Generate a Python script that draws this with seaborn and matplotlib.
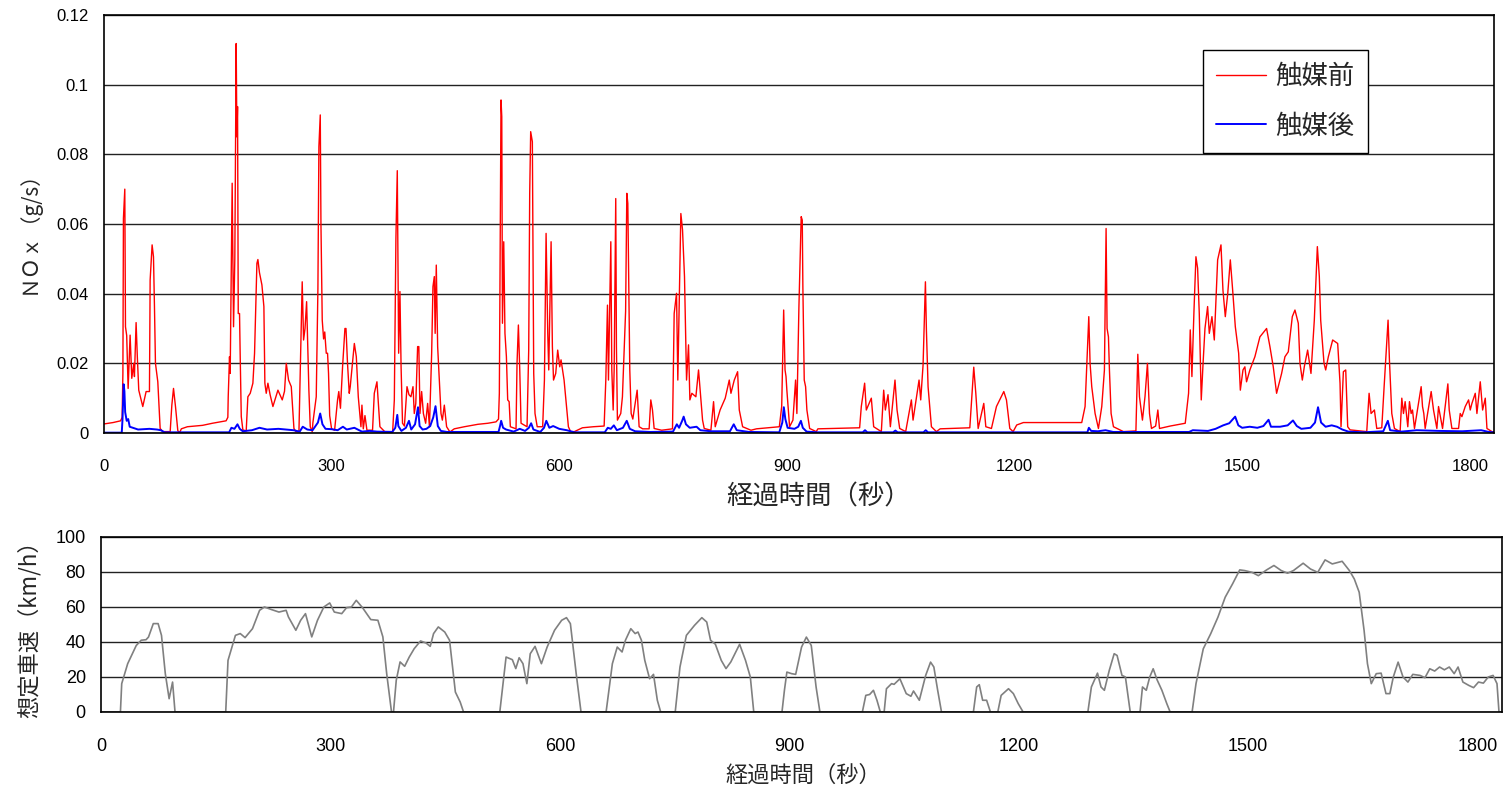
import matplotlib
matplotlib.use("Agg")
import matplotlib.pyplot as plt
import seaborn as sns
import pandas as pd

# ---------------- data ----------------
red_t = [0, 12, 22, 24, 25, 25.7, 27.5, 28.4, 30, 31.9, 34.5, 36.7, 39.3, 40.2, 42.4, 44, 45.9, 51.2, 55.6, 60,
         60.9, 63.5, 65.3, 66.6, 67.9, 71, 74.1, 77.6, 87.3, 89.5, 91.7, 94.3, 97.4, 100, 102, 110, 130, 143, 161,
         163.3, 163.8, 165.5, 166.4, 169, 170.8, 172.5, 174.3, 175.2, 176.1, 177, 178.7, 179.6, 181, 183.1, 187.5,
         189.7, 192.8, 196.3, 198.5, 201.6, 202.9, 205, 208.2, 210.8, 212.1, 213.9, 216.1, 219, 222.7, 226, 229.3,
         232, 235, 238, 240.3, 243.3, 246.9, 250.4, 253, 257, 259.2, 261.3, 263.1, 265, 267.1, 268.4, 270.1, 271.9,
         274.5, 275.4, 279.8, 282, 283.3, 285.1, 286, 287.7, 289.5, 291, 293, 294.7, 296, 297.5, 300, 304, 307.9,
         309.5, 311.7, 314.5, 317.6, 319, 321, 323.3, 324.6, 330, 332.6, 335.2, 338.7, 340, 341.8, 344, 346.6, 354,
         356.3, 359.8, 361.5, 363.7, 370, 380.5, 382.7, 384.8, 386.6, 388.4, 390.1, 391.6, 393.5, 396, 399.4, 402,
         404.6, 407.3, 409, 411, 413.4, 415, 416.5, 418.7, 421, 424, 426.6, 429, 431.9, 433.6, 435.4, 436.5, 438,
         439.8, 442, 444.2, 446, 448.6, 451.6, 456, 461.7, 475, 492.9, 506, 516.7, 520, 521.1, 523.3, 524.3, 525.2,
         526.9, 528.5, 530.4, 532.1, 534, 535.6, 543.1, 544.4, 546.2, 548, 549.7, 557.6, 559.8, 561.1, 562.4, 564.6,
         566.4, 568.1, 571, 578.2, 580.5, 582.7, 584.9, 586.2, 589.3, 591, 592.5, 595.4, 598, 600.7, 602.4, 606.4,
         609, 612.1, 615, 620, 630.6, 645, 659.2, 661.4, 663.6, 664.9, 668, 669.3, 671.1, 672.4, 674.5, 675.4, 676.7,
         681.1, 683.3, 685.5, 687.5, 689.1, 690.4, 693, 694.8, 697, 702.7, 705.3, 710, 718.5, 720.7, 722.9, 725.1,
         735, 749.3, 751.5, 754.6, 756.3, 760.3, 762.5, 765.1, 767.8, 770.4, 772.2, 774.8, 780.1, 783.6, 786.7,
         788.9, 791.1, 799.9, 803.4, 805.6, 812, 818.8, 824.1, 826.3, 830.7, 835.1, 837.3, 841.7, 852.7, 860, 890.1,
         893.2, 895.8, 897.6, 898.9, 900, 903.6, 908, 911.5, 913.2, 915.9, 918.9, 920.3, 921.1, 922.9, 924.7, 926.4,
         930, 938.7, 940.9, 995.9, 998.1, 1002.5, 1004.7, 1011.3, 1014.4, 1024.5, 1027.6, 1029.8, 1033.3, 1036.4,
         1042.5, 1045.2, 1048.7, 1056.6, 1064.1, 1066.3, 1074.2, 1076.4, 1079.5, 1082.6, 1083.9, 1086.1, 1090.5,
         1097.1, 1102, 1141.1, 1146.3, 1149, 1152.1, 1159.5, 1162.2, 1169.6, 1176.2, 1185.9, 1189.4, 1193.8, 1198.2,
         1202.9, 1211.7, 1288.6, 1293, 1297.9, 1299.6, 1301.8, 1306.2, 1310.6, 1315, 1318.5, 1320.7, 1322, 1323.8,
         1325.1, 1327.3, 1330.4, 1343.6, 1360, 1362.5, 1364.7, 1368.6, 1372, 1375.2, 1377.9, 1380.5, 1386, 1388.9,
         1391.1, 1405.2, 1425, 1429.4, 1431.6, 1433.8, 1436.5, 1439.1, 1441.3, 1443.5, 1446.1, 1448.5, 1451, 1454.5,
         1456.7, 1460.2, 1463.3, 1467.7, 1472.1, 1474.7, 1477.8, 1481, 1484.4, 1487.5, 1491, 1495.4, 1497.6, 1501.1,
         1503.6, 1505.8, 1510.2, 1516.8, 1523.4, 1532.2, 1536.6, 1541, 1545.4, 1549.8, 1552, 1556.4, 1560.8, 1566.1,
         1569.6, 1574, 1576.2, 1579.3, 1581.9, 1586.3, 1590.7, 1595.1, 1599.1, 1601.7, 1603.5, 1607.9, 1610.1,
         1613.6, 1619.3, 1625.9, 1629, 1630.3, 1633.4, 1636.5, 1639.1, 1642.2, 1664.2, 1667.3, 1669.9, 1674.3,
         1677.4, 1684, 1687.1, 1692.3, 1694.1, 1697.2, 1700.7, 1708.2, 1710.4, 1712.6, 1714.8, 1718.3, 1720.5,
         1722.7, 1724.5, 1727.1, 1735.9, 1737.7, 1739.4, 1741.2, 1749.1, 1752.2, 1756.6, 1758.8, 1764.1, 1771.1,
         1772.9, 1776.4, 1785.2, 1787.4, 1789.6, 1794, 1798.4, 1800.6, 1802.8, 1807.2, 1809.4, 1813.8, 1816.9,
         1820.4, 1822.6, 1829.2, 1832]
red_v = [0.0026, 0.003, 0.0035, 0.0045, 0.0171, 0.0616, 0.070, 0.0305, 0.028, 0.0128, 0.0281, 0.0157, 0.020,
         0.0162, 0.0317, 0.022, 0.0123, 0.0076, 0.0119, 0.0119, 0.0439, 0.054, 0.0506, 0.0363, 0.020, 0.0147,
         0.0013, 0.0004, 0.0004, 0.008, 0.0128, 0.0076, 0.0006, 0.0002, 0.0012, 0.0018, 0.0022, 0.0028, 0.0035,
         0.0045, 0.0104, 0.0219, 0.0171, 0.0717, 0.0305, 0.050, 0.1118, 0.085, 0.0937, 0.0343, 0.0343, 0.0219,
         0.0047, 0.0009, 0.0006, 0.0104, 0.0114, 0.0143, 0.0229, 0.0487, 0.0498, 0.046, 0.0425, 0.0363, 0.0143,
         0.0114, 0.0143, 0.011, 0.0076, 0.010, 0.0123, 0.011, 0.0095, 0.012, 0.020, 0.0152, 0.0133, 0.0013, 0.0004,
         0.0004, 0.0219, 0.0434, 0.0267, 0.030, 0.0377, 0.0262, 0.0123, 0.0018, 0.0004, 0.003, 0.0104, 0.0415,
         0.0822, 0.0913, 0.060, 0.0324, 0.027, 0.029, 0.0229, 0.0229, 0.0171, 0.005, 0.0012, 0.0008, 0.0095,
         0.0119, 0.0071, 0.019, 0.030, 0.030, 0.020, 0.0114, 0.0133, 0.0257, 0.0219, 0.0104, 0.0018, 0.008, 0.0012,
         0.005, 0.0008, 0.0008, 0.0114, 0.0147, 0.009, 0.0018, 0.0004, 0.0004, 0.0095, 0.0559, 0.0753, 0.0229,
         0.0406, 0.019, 0.0028, 0.002, 0.0133, 0.011, 0.0104, 0.0133, 0.0056, 0.0085, 0.0248, 0.0248, 0.0056,
         0.0119, 0.0056, 0.0028, 0.0085, 0.0018, 0.0229, 0.042, 0.0449, 0.0286, 0.0482, 0.0248, 0.0152, 0.0056,
         0.0037, 0.008, 0.0018, 0.0003, 0.0012, 0.0018, 0.0025, 0.0028, 0.0032, 0.004, 0.0114, 0.0956, 0.0908,
         0.0315, 0.0549, 0.0286, 0.0219, 0.0095, 0.009, 0.0018, 0.0012, 0.020, 0.031, 0.0181, 0.0028, 0.0018,
         0.0238, 0.0688, 0.0865, 0.0836, 0.0171, 0.0056, 0.0018, 0.0018, 0.0152, 0.0573, 0.0286, 0.0181, 0.0549,
         0.0248, 0.0152, 0.0171, 0.0238, 0.019, 0.021, 0.0152, 0.009, 0.0018, 0.0004, 0.0004, 0.0015, 0.0018,
         0.002, 0.0152, 0.0367, 0.0152, 0.0549, 0.0181, 0.0066, 0.0181, 0.0673, 0.0248, 0.0037, 0.0056, 0.0104,
         0.0229, 0.035, 0.0688, 0.0659, 0.0181, 0.0056, 0.004, 0.0123, 0.0018, 0.0012, 0.0012, 0.0095, 0.0066,
         0.0013, 0.0008, 0.0012, 0.0343, 0.0401, 0.0152, 0.063, 0.0583, 0.0449, 0.0152, 0.0253, 0.0095, 0.0114,
         0.0104, 0.0181, 0.0095, 0.0037, 0.0013, 0.0008, 0.009, 0.0018, 0.0066, 0.010, 0.0152, 0.0114, 0.0152,
         0.0176, 0.0066, 0.0018, 0.0008, 0.0012, 0.0018, 0.0076, 0.0353, 0.0181, 0.0162, 0.0123, 0.0018, 0.0037,
         0.0152, 0.0056, 0.0363, 0.0621, 0.0611, 0.042, 0.0152, 0.0133, 0.0066, 0.0013, 0.0004, 0.0012, 0.0015,
         0.0076, 0.0143, 0.0066, 0.010, 0.0018, 0.0004, 0.0123, 0.0066, 0.011, 0.0018, 0.0152, 0.0066, 0.0013,
         0.0004, 0.0095, 0.0037, 0.0152, 0.0095, 0.0195, 0.0434, 0.0296, 0.0133, 0.0018, 0.0004, 0.0012, 0.0015,
         0.0189, 0.0114, 0.0013, 0.0085, 0.0018, 0.0013, 0.0076, 0.0119, 0.0095, 0.0013, 0.0004, 0.0023, 0.003,
         0.003, 0.0076, 0.0334, 0.020, 0.0133, 0.0056, 0.0013, 0.0076, 0.0181, 0.0587, 0.030, 0.0276, 0.0181,
         0.0056, 0.0018, 0.0004, 0.0006, 0.0226, 0.0104, 0.0037, 0.0105, 0.020, 0.0056, 0.0013, 0.002, 0.0066,
         0.0013, 0.002, 0.0028, 0.0114, 0.0296, 0.0162, 0.035, 0.0506, 0.0473, 0.0343, 0.0095, 0.020, 0.030,
         0.0363, 0.0286, 0.0334, 0.0267, 0.0497, 0.054, 0.041, 0.0334, 0.040, 0.0497, 0.041, 0.0305, 0.0229,
         0.0123, 0.0181, 0.019, 0.0147, 0.0181, 0.0219, 0.0276, 0.030, 0.0248, 0.019, 0.0114, 0.0152, 0.0171,
         0.0219, 0.0233, 0.0334, 0.0353, 0.0315, 0.020, 0.0152, 0.019, 0.0238, 0.0171, 0.0324, 0.0535, 0.0449,
         0.0324, 0.020, 0.0181, 0.0219, 0.0267, 0.0257, 0.0143, 0.0018, 0.0176, 0.0181, 0.0018, 0.0009, 0.0004,
         0.0114, 0.0056, 0.0066, 0.0013, 0.0015, 0.0133, 0.0324, 0.0209, 0.0056, 0.0013, 0.0004, 0.010, 0.0056,
         0.009, 0.0018, 0.009, 0.0056, 0.0066, 0.0013, 0.0133, 0.0076, 0.0056, 0.0013, 0.0119, 0.0066, 0.0013,
         0.0076, 0.0013, 0.0141, 0.0066, 0.0013, 0.0013, 0.0056, 0.0047, 0.0076, 0.0095, 0.0066, 0.0085, 0.0114,
         0.0056, 0.0147, 0.0066, 0.010, 0.0013, 0.0004, 0.0003]

blue_t = [0, 23.5, 24.5, 26, 27, 28, 30, 32, 34, 38, 45, 60, 70, 75, 80, 165, 168, 172, 176, 179, 183, 195, 205,
          215, 230, 250, 258, 262, 268, 275, 282, 285, 288, 292, 300, 308, 315, 320, 330, 340, 350, 360, 380, 384,
          386.6, 388, 392, 398, 402, 405, 410, 413.9, 416, 420, 425, 430, 434, 437, 440, 444, 452, 520, 522, 523.5,
          526, 530, 540, 548, 555, 560, 563, 566, 575, 580, 583, 587, 592, 600, 610, 620, 660, 664, 668, 672, 676,
          684, 689, 693, 700, 720, 750, 755, 758, 762, 764, 767, 772, 781, 786, 800, 825, 830, 834, 850, 890, 894,
          896, 898, 901, 910, 915, 918.5, 921, 926, 940, 1000, 1003, 1006, 1040, 1043, 1046, 1080, 1083, 1086, 1296,
          1298, 1301, 1310, 1320, 1330, 1430, 1435, 1445, 1455, 1465, 1475, 1483, 1490.8, 1495, 1500, 1510, 1520,
          1528, 1534.8, 1538, 1550, 1560, 1567, 1572, 1578, 1590, 1596, 1600, 1604, 1610, 1618, 1625, 1632, 1640,
          1660, 1686, 1692, 1695, 1710, 1730, 1760, 1790, 1815, 1825, 1832]
blue_v = [0.0001, 0.0001, 0.004, 0.014, 0.012, 0.006, 0.0035, 0.004, 0.0018, 0.0015, 0.001, 0.0012, 0.001,
          0.0008, 0.0002, 0.0002, 0.0015, 0.0012, 0.0025, 0.0012, 0.0005, 0.0008, 0.0015, 0.001, 0.0012, 0.0008,
          0.0004, 0.0018, 0.001, 0.0008, 0.003, 0.0056, 0.0025, 0.0012, 0.0011, 0.0008, 0.0018, 0.001, 0.0015,
          0.0004, 0.0006, 0.0004, 0.0003, 0.0015, 0.0052, 0.002, 0.0006, 0.0015, 0.0035, 0.001, 0.0025, 0.0074,
          0.002, 0.001, 0.0012, 0.002, 0.0045, 0.0077, 0.002, 0.0006, 0.0003, 0.0003, 0.002, 0.0035, 0.0015, 0.001,
          0.0004, 0.0012, 0.0006, 0.0015, 0.0028, 0.001, 0.0003, 0.0015, 0.0035, 0.0015, 0.002, 0.0012, 0.0008,
          0.0002, 0.0002, 0.0015, 0.0012, 0.0022, 0.0008, 0.0015, 0.0035, 0.0012, 0.0005, 0.0003, 0.0004, 0.0025,
          0.0015, 0.0035, 0.0047, 0.0025, 0.0015, 0.0018, 0.0008, 0.0005, 0.0005, 0.0025, 0.0008, 0.0003, 0.0002,
          0.003, 0.0074, 0.004, 0.0015, 0.0012, 0.0018, 0.0035, 0.0015, 0.0004, 0.0002, 0.0002, 0.0008, 0.0002,
          0.0002, 0.0007, 0.0002, 0.0002, 0.0008, 0.0002, 0.0002, 0.0015, 0.0006, 0.0005, 0.0008, 0.0003, 0.0003,
          0.0008, 0.0007, 0.0006, 0.0012, 0.0022, 0.0028, 0.0047, 0.0022, 0.0015, 0.0018, 0.0015, 0.002, 0.0038,
          0.0018, 0.0018, 0.0022, 0.0036, 0.002, 0.0012, 0.0015, 0.003, 0.0074, 0.003, 0.0018, 0.0022, 0.0018,
          0.001, 0.0004, 0.0002, 0.0005, 0.0035, 0.0008, 0.0004, 0.0008, 0.0006, 0.0005, 0.0008, 0.0003, 0.0002]

speed_t = [0, 25.3, 27, 34.8, 46, 52.5, 58.8, 62, 68.3, 74.6, 79, 84, 89, 93.5, 96.7, 163, 166, 175.7, 182, 188.3,
           198, 207.3, 213.6, 223, 232.6, 242, 245, 254.7, 261, 267.3, 275.5, 283, 291.3, 299, 305, 314.7, 321,
           327.4, 333.7, 341.9, 352.7, 362, 368.5, 373.5, 379.8, 382.4, 386, 391, 397, 403, 409.5, 417.8, 425, 430.4,
           434.8, 441, 449.4, 455.7, 463.3, 469.6, 474, 521.4, 529.6, 537.8, 542.3, 546.7, 551.7, 556.8, 561.2,
           567.5, 575.8, 583.3, 593, 602.3, 608.6, 613.7, 621.3, 627.6, 660.4, 668.6, 675, 681.3, 685.7, 692.7,
           698.4, 702.1, 706.6, 711, 717.3, 722.4, 727.4, 731.8, 750.8, 757, 765.4, 776, 785.6, 792, 797, 803.3, 811,
           817.2, 823.5, 835, 842.7, 849, 853.5, 890.4, 893.6, 896.8, 903, 908.3, 916, 922.3, 928.7, 935, 940, 995.5,
           1000, 1005, 1010, 1014.6, 1019, 1024, 1027, 1033.7, 1037, 1044.6, 1052.9, 1059, 1062.4, 1070, 1078.3,
           1084.7, 1089, 1094, 1099, 1140.7, 1145, 1148.4, 1152.8, 1158, 1163, 1172.6, 1177, 1186.6, 1193, 1199.3,
           1205.7, 1290.4, 1295, 1303, 1307.6, 1312, 1318.4, 1324.8, 1328.6, 1335, 1339.5, 1345.8, 1358.6, 1361.8,
           1366.8, 1371.3, 1375.8, 1380.9, 1387.2, 1393.6, 1398, 1426.7, 1431.8, 1441.3, 1451, 1460.5, 1470, 1479.6,
           1489, 1495.5, 1505, 1513.3, 1524.2, 1533.7, 1543.3, 1551.5, 1559.2, 1571.9, 1581.5, 1591, 1600.6, 1610,
           1622.9, 1632.4, 1638.8, 1645.2, 1651.6, 1656, 1661, 1667.5, 1673.9, 1680.2, 1685.3, 1689.8, 1696.1,
           1702.5, 1708.9, 1715.3, 1724.8, 1731.2, 1737.5, 1743.9, 1750.3, 1756.6, 1763, 1769.4, 1774.5, 1780.8,
           1788.5, 1794.8, 1801.2, 1807.6, 1814, 1820.3, 1825.4, 1828, 1832]
speed_v = [0, 0, 16.2, 27.6, 38, 41, 41.3, 42.8, 50.5, 50.5, 43.8, 21.9, 7.6, 17.1, 0, 0, 29.5, 43.8, 44.8, 42.5,
           47.6, 58.1, 60, 58.5, 57.1, 58.1, 54.3, 46.7, 52.4, 56.2, 42.9, 52.4, 60, 62.3, 57.1, 56.2, 59.6, 60, 63.8,
           59.6, 52.8, 52.4, 42.9, 21.9, 0, 0, 18.1, 28.6, 26.1, 31.4, 36.2, 40.6, 39.4, 37.5, 44.8, 48.6, 45.7, 41,
           11.4, 5.7, 0, 0, 31.4, 29.9, 24.8, 31, 27.6, 16.2, 33.3, 37.5, 27.6, 37.1, 46.7, 52.4, 53.9, 50.5, 21.9,
           0, 0, 27.6, 37.1, 34.3, 41, 47.6, 44.8, 45.7, 41, 29.5, 19, 21.5, 6.7, 0, 0, 25.7, 43.8, 49.5, 53.9,
           51.4, 41, 38.7, 29.5, 24.8, 28.6, 38.7, 29.5, 20, 0, 0, 12.4, 22.8, 21.9, 21.5, 37.1, 42.8, 38, 14.3, 0,
           0, 9.5, 10, 12.4, 6.7, 0, 0, 13.3, 16.2, 15.8, 19, 10.5, 9, 12, 6.7, 20.9, 28.5, 25.7, 12.4, 0, 0, 14.3,
           15.6, 6.7, 6.7, 0, 0, 9.5, 13.3, 10.5, 4.8, 0, 0, 14.3, 22.2, 14.3, 12.4, 23.8, 33.3, 32.3, 20.9, 20, 0,
           0, 14.3, 12.4, 20, 24.7, 18.4, 12.4, 4.8, 0, 0, 16.2, 36.1, 44.7, 54.2, 65.6, 73.2, 81.2, 80.8, 79.8,
           77.9, 81.2, 83.7, 80.8, 79.3, 80.8, 85, 81.7, 79.8, 86.9, 84.6, 86.1, 80.8, 76, 68.4, 46.6, 27.6, 16.2,
           21.9, 22.2, 10.5, 10.5, 20, 28.5, 20, 17.1, 21.5, 20.9, 19.6, 24.7, 23.4, 25.7, 24.1, 25.7, 21.9, 25.7,
           17.1, 15.2, 13.9, 17.1, 16.5, 20, 20.9, 16.2, 0, 0]

nox_ticks = [0, 0.02, 0.04, 0.06, 0.08, 0.1, 0.12]
nox_labels = ["0", "0.02", "0.04", "0.06", "0.08", "0.1", "0.12"]
speed_ticks = [0, 20, 40, 60, 80, 100]
time_ticks = [0, 300, 600, 900, 1200, 1500, 1800]
series_names = ["触媒前", "触媒後"]

# ---------------- figure ----------------
sns.set_theme(style="white")
plt.rcParams["font.family"] = ["Liberation Sans", "Noto Sans CJK JP", "DejaVu Sans"]

fig = plt.figure(figsize=(15.04, 7.87), dpi=100)
ax1 = fig.add_axes([0.0691, 0.4498, 0.9243, 0.5312])
ax2 = fig.add_axes([0.0672, 0.0953, 0.9315, 0.2224])

df_red = pd.DataFrame({"t": red_t, "v": red_v})
df_blue = pd.DataFrame({"t": blue_t, "v": blue_v})
df_speed = pd.DataFrame({"t": speed_t, "v": speed_v})

sns.lineplot(data=df_red, x="t", y="v", ax=ax1, color="#ff0000", lw=1.0,
             label=series_names[0], estimator=None)
sns.lineplot(data=df_blue, x="t", y="v", ax=ax1, color="#0000ff", lw=1.4,
             label=series_names[1], estimator=None)
sns.lineplot(data=df_speed, x="t", y="v", ax=ax2, color="#808080", lw=1.2, estimator=None)

for ax in (ax1, ax2):
    ax.set_xlim(0, 1832)
    ax.set_xticks(time_ticks)
    ax.set_xlabel("")
    ax.set_ylabel("")
    ax.set_axisbelow(True)
    ax.yaxis.grid(True, color="#222222", lw=1.0)
    ax.xaxis.grid(False)
    for s in ax.spines.values():
        s.set_visible(True)
        s.set_color("black")
        s.set_linewidth(1.2)
    ax.tick_params(axis="x", direction="in", length=5, width=1, colors="black")
    ax.tick_params(axis="y", length=0, colors="black")

ax1.set_ylim(0, 0.12)
ax1.set_yticks(nox_ticks)
ax1.set_yticklabels(nox_labels)
ax1.tick_params(axis="x", labelsize=12, pad=19)
ax1.tick_params(axis="y", labelsize=12, pad=11)

ax2.set_ylim(0, 100)
ax2.set_yticks(speed_ticks)
ax2.tick_params(axis="x", labelsize=13, pad=19)
ax2.tick_params(axis="y", labelsize=13, pad=11)
for lab in ax2.get_xticklabels() + ax2.get_yticklabels():
    lab.set_family(["Liberation Sans Narrow", "Liberation Sans"])

leg = ax1.legend(loc="upper right", bbox_to_anchor=(0.909, 0.916),
                 prop={"family": ["Noto Sans CJK JP"], "size": 19},
                 frameon=True, fancybox=False, framealpha=1, edgecolor="black",
                 handlelength=1.9, handletextpad=0.35, borderpad=0.5, labelspacing=0.85,
                 borderaxespad=0)
leg.get_frame().set_linewidth(1.0)

cjk = ["Noto Sans CJK JP", "DejaVu Sans"]
fig.text(0.019, 0.712, "ＮＯｘ（g/s）", rotation=90, ha="center", va="center",
         fontsize=15, family=cjk)
fig.text(0.5446, 0.3685, "経過時間（秒）", ha="center", va="center", fontsize=19, family=cjk)
fig.text(0.019, 0.208, "想定車速（km/h）", rotation=90, ha="center", va="center",
         fontsize=16, family=cjk)
fig.text(0.534, 0.015, "経過時間（秒）", ha="center", va="center", fontsize=16, family=cjk)

fig.savefig("out.png", dpi=100, facecolor="white")
